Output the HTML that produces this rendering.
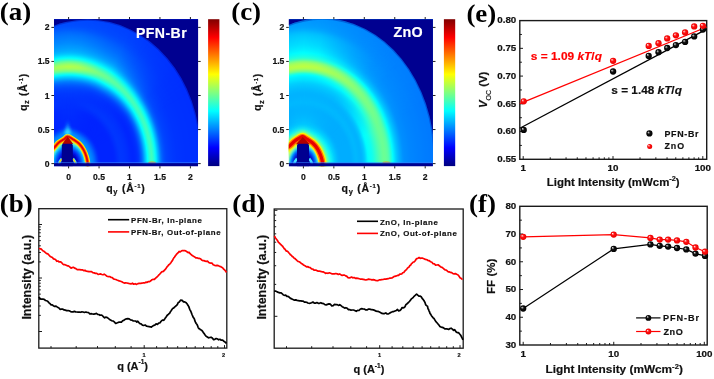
<!DOCTYPE html>
<html><head><meta charset="utf-8"><style>
html,body{margin:0;padding:0;background:#fff;}
#w{position:relative;width:714px;height:379px;overflow:hidden;background:#fff;}
.heat{position:absolute;overflow:hidden;}
svg{position:absolute;left:0;top:0;will-change:transform;}
</style></head><body><div id="w">
<div class="heat" style="left:54.00px;top:19.20px;width:144.10px;height:147.00px;background:radial-gradient(ellipse 140.40px 163.20px at 14.60px 144.40px, #0061ff 0.00%, #0060ff 1.04%, #0060ff 2.08%, #005fff 3.13%, #005fff 4.17%, #005fff 5.21%, #005eff 6.25%, #005eff 7.29%, #005eff 8.33%, #005dff 9.38%, #005dff 10.42%, #005cff 11.46%, #005bff 12.50%, #005bff 13.54%, #005aff 14.58%, #0059ff 15.62%, #0058ff 16.67%, #0056ff 17.71%, #004fff 18.75%, #0042ff 19.79%, #0034ff 20.83%, #0028ff 21.88%, #0024ff 22.92%, #0024ff 23.96%, #0024ff 25.00%, #0024ff 26.04%, #0024ff 27.08%, #0024ff 28.13%, #0024ff 29.17%, #0024ff 30.21%, #0024ff 31.25%, #0025ff 32.29%, #0028ff 33.33%, #002dff 34.38%, #0031ff 35.42%, #0035ff 36.46%, #0036ff 37.50%, #0035ff 38.54%, #0034ff 39.58%, #0032ff 40.63%, #0030ff 41.67%, #002dff 42.71%, #002aff 43.75%, #0027ff 44.79%, #0026ff 45.83%, #0027ff 46.88%, #002aff 47.92%, #002fff 48.96%, #0038ff 50.00%, #004aff 51.04%, #0061ff 52.08%, #0082ff 53.13%, #00adff 54.17%, #00d5ff 55.21%, #00feff 56.25%, #1fffe0 57.29%, #39ffc6 58.33%, #42ffbd 59.38%, #2fffd0 60.42%, #14ffeb 61.46%, #00edff 62.50%, #00c4ff 63.54%, #009fff 64.58%, #007aff 65.63%, #0061ff 66.67%, #0053ff 67.71%, #0049ff 68.75%, #0043ff 69.79%, #0040ff 70.83%, #003dff 71.88%, #003bff 72.92%, #0039ff 73.96%, #0037ff 75.00%, #0036ff 76.04%, #0034ff 77.08%, #0034ff 78.12%, #0033ff 79.17%, #0033ff 80.21%, #0032ff 81.25%, #0032ff 82.29%, #0031ff 83.33%, #0031ff 84.38%, #0031ff 85.42%, #0031ff 86.46%, #0030ff 87.50%, #0030ff 88.54%, #0030ff 89.58%, #0030ff 90.63%, #002fff 91.67%, #002fff 92.71%, #002fff 93.75%, #002fff 94.79%, #002fff 95.83%, #002fff 96.88%, #002eff 97.92%, #002eff 98.96%)"><div style="position:absolute;left:0;top:0;width:100%;height:100%;background:radial-gradient(ellipse 140.40px 163.20px at 14.60px 144.40px, #0061ff 0.00%, #0060ff 1.04%, #0060ff 2.08%, #005fff 3.13%, #005fff 4.17%, #005fff 5.21%, #005eff 6.25%, #005eff 7.29%, #005eff 8.33%, #005dff 9.38%, #005dff 10.42%, #005cff 11.46%, #005bff 12.50%, #005bff 13.54%, #005aff 14.58%, #0059ff 15.62%, #0058ff 16.67%, #0056ff 17.71%, #004fff 18.75%, #0042ff 19.79%, #0034ff 20.83%, #0028ff 21.88%, #0024ff 22.92%, #0024ff 23.96%, #0024ff 25.00%, #0024ff 26.04%, #0024ff 27.08%, #0024ff 28.13%, #0024ff 29.17%, #0024ff 30.21%, #0024ff 31.25%, #0025ff 32.29%, #0028ff 33.33%, #002dff 34.38%, #0031ff 35.42%, #0035ff 36.46%, #0036ff 37.50%, #0035ff 38.54%, #0033ff 39.58%, #0031ff 40.63%, #0030ff 41.67%, #0030ff 42.71%, #0031ff 43.75%, #0033ff 44.79%, #0035ff 45.83%, #003bff 46.88%, #0042ff 47.92%, #004fff 48.96%, #0063ff 50.00%, #007bff 51.04%, #0096ff 52.08%, #00b8ff 53.13%, #00dbff 54.17%, #00ffff 55.21%, #22ffdd 56.25%, #3fffc0 57.29%, #58ffa7 58.33%, #60ff9f 59.38%, #53ffac 60.42%, #3cffc3 61.46%, #23ffdc 62.50%, #03fffc 63.54%, #00e5ff 64.58%, #00ceff 65.63%, #00b9ff 66.67%, #00a7ff 67.71%, #0099ff 68.75%, #008fff 69.79%, #0086ff 70.83%, #007eff 71.88%, #0078ff 72.92%, #0072ff 73.96%, #006dff 75.00%, #0068ff 76.04%, #0064ff 77.08%, #0060ff 78.12%, #005cff 79.17%, #0058ff 80.21%, #0054ff 81.25%, #0050ff 82.29%, #004dff 83.33%, #004aff 84.38%, #0047ff 85.42%, #0046ff 86.46%, #0044ff 87.50%, #0043ff 88.54%, #0042ff 89.58%, #0041ff 90.63%, #0040ff 91.67%, #003fff 92.71%, #003eff 93.75%, #003dff 94.79%, #003cff 95.83%, #003bff 96.88%, #003aff 97.92%, #0039ff 98.96%);-webkit-mask-image:conic-gradient(from 0deg at 14.60px 144.40px, rgba(0,0,0,1.000) 0.0deg, rgba(0,0,0,1.000) 25.0deg, rgba(0,0,0,0.500) 38.0deg, rgba(0,0,0,0.100) 50.0deg, rgba(0,0,0,0.000) 60.0deg, rgba(0,0,0,0.000) 90.0deg, rgba(0,0,0,0.000) 270.0deg, rgba(0,0,0,0.000) 300.0deg, rgba(0,0,0,0.100) 310.0deg, rgba(0,0,0,0.500) 322.0deg, rgba(0,0,0,1.000) 335.0deg, rgba(0,0,0,1.000) 360.0deg);mask-image:conic-gradient(from 0deg at 14.60px 144.40px, rgba(0,0,0,1.000) 0.0deg, rgba(0,0,0,1.000) 25.0deg, rgba(0,0,0,0.500) 38.0deg, rgba(0,0,0,0.100) 50.0deg, rgba(0,0,0,0.000) 60.0deg, rgba(0,0,0,0.000) 90.0deg, rgba(0,0,0,0.000) 270.0deg, rgba(0,0,0,0.000) 300.0deg, rgba(0,0,0,0.100) 310.0deg, rgba(0,0,0,0.500) 322.0deg, rgba(0,0,0,1.000) 335.0deg, rgba(0,0,0,1.000) 360.0deg)"></div><div style="position:absolute;left:0;top:0;width:100%;height:100%;background:radial-gradient(ellipse 140.40px 163.20px at 14.60px 144.40px, #0061ff 0.00%, #0060ff 1.04%, #0060ff 2.08%, #005fff 3.13%, #005fff 4.17%, #005fff 5.21%, #005eff 6.25%, #005eff 7.29%, #005eff 8.33%, #005dff 9.38%, #005dff 10.42%, #005cff 11.46%, #005bff 12.50%, #005bff 13.54%, #005aff 14.58%, #0059ff 15.62%, #0058ff 16.67%, #0056ff 17.71%, #0050ff 18.75%, #0044ff 19.79%, #0037ff 20.83%, #002dff 21.88%, #0029ff 22.92%, #0029ff 23.96%, #0029ff 25.00%, #0029ff 26.04%, #002aff 27.08%, #002bff 28.13%, #002bff 29.17%, #002cff 30.21%, #002dff 31.25%, #002dff 32.29%, #002eff 33.33%, #002fff 34.38%, #002fff 35.42%, #0030ff 36.46%, #0031ff 37.50%, #0032ff 38.54%, #0033ff 39.58%, #0035ff 40.63%, #0037ff 41.67%, #0039ff 42.71%, #003dff 43.75%, #0041ff 44.79%, #0047ff 45.83%, #0050ff 46.88%, #005bff 47.92%, #006aff 48.96%, #007cff 50.00%, #0098ff 51.04%, #00b7ff 52.08%, #00d6ff 53.13%, #00faff 54.17%, #30ffcf 55.21%, #6cff93 56.25%, #90ff6f 57.29%, #aaff55 58.33%, #b2ff4d 59.38%, #a1ff5e 60.42%, #84ff7b 61.46%, #5fffa0 62.50%, #2effd1 63.54%, #04fffb 64.58%, #00e7ff 65.63%, #00ceff 66.67%, #00bbff 67.71%, #00aeff 68.75%, #00a5ff 69.79%, #009dff 70.83%, #0097ff 71.88%, #0090ff 72.92%, #008aff 73.96%, #0085ff 75.00%, #0080ff 76.04%, #007bff 77.08%, #0076ff 78.12%, #0070ff 79.17%, #0069ff 80.21%, #0061ff 81.25%, #0059ff 82.29%, #0053ff 83.33%, #004eff 84.38%, #004cff 85.42%, #004bff 86.46%, #004aff 87.50%, #0049ff 88.54%, #0048ff 89.58%, #0047ff 90.63%, #0047ff 91.67%, #0046ff 92.71%, #0045ff 93.75%, #0045ff 94.79%, #0045ff 95.83%, #0044ff 96.88%, #0044ff 97.92%, #0043ff 98.96%);-webkit-mask-image:conic-gradient(from 0deg at 14.60px 144.40px, rgba(0,0,0,1.000) 0.0deg, rgba(0,0,0,0.900) 6.0deg, rgba(0,0,0,0.600) 12.0deg, rgba(0,0,0,0.300) 18.0deg, rgba(0,0,0,0.080) 26.0deg, rgba(0,0,0,0.000) 34.0deg, rgba(0,0,0,0.000) 90.0deg, rgba(0,0,0,0.000) 270.0deg, rgba(0,0,0,0.000) 326.0deg, rgba(0,0,0,0.080) 334.0deg, rgba(0,0,0,0.300) 342.0deg, rgba(0,0,0,0.600) 348.0deg, rgba(0,0,0,0.900) 354.0deg, rgba(0,0,0,1.000) 360.0deg);mask-image:conic-gradient(from 0deg at 14.60px 144.40px, rgba(0,0,0,1.000) 0.0deg, rgba(0,0,0,0.900) 6.0deg, rgba(0,0,0,0.600) 12.0deg, rgba(0,0,0,0.300) 18.0deg, rgba(0,0,0,0.080) 26.0deg, rgba(0,0,0,0.000) 34.0deg, rgba(0,0,0,0.000) 90.0deg, rgba(0,0,0,0.000) 270.0deg, rgba(0,0,0,0.000) 326.0deg, rgba(0,0,0,0.080) 334.0deg, rgba(0,0,0,0.300) 342.0deg, rgba(0,0,0,0.600) 348.0deg, rgba(0,0,0,0.900) 354.0deg, rgba(0,0,0,1.000) 360.0deg)"></div></div><div class="heat" style="left:288.80px;top:19.20px;width:144.10px;height:147.00px;background:radial-gradient(ellipse 140.40px 163.20px at 14.60px 144.40px, #00faff 0.00%, #00faff 1.04%, #00faff 2.08%, #00faff 3.13%, #00faff 4.17%, #00faff 5.21%, #00faff 6.25%, #00faff 7.29%, #00faff 8.33%, #00faff 9.38%, #00faff 10.42%, #00faff 11.46%, #00faff 12.50%, #00faff 13.54%, #00faff 14.58%, #00faff 15.62%, #00faff 16.67%, #00faff 17.71%, #00f3ff 18.75%, #00e7ff 19.79%, #00daff 20.83%, #00cfff 21.88%, #00c5ff 22.92%, #00baff 23.96%, #00b2ff 25.00%, #00aeff 26.04%, #00adff 27.08%, #00adff 28.13%, #00adff 29.17%, #00adff 30.21%, #00adff 31.25%, #00adff 32.29%, #00adff 33.33%, #00afff 34.38%, #00b3ff 35.42%, #00b6ff 36.46%, #00b8ff 37.50%, #00b6ff 38.54%, #00b4ff 39.58%, #00b3ff 40.63%, #00b6ff 41.67%, #00c0ff 42.71%, #00cdff 43.75%, #00e4ff 44.79%, #00faff 45.83%, #05fffa 46.88%, #0afff5 47.92%, #11ffee 48.96%, #1dffe2 50.00%, #2bffd4 51.04%, #39ffc6 52.08%, #46ffb9 53.13%, #53ffac 54.17%, #5dffa2 55.21%, #66ff99 56.25%, #6bff94 57.29%, #69ff96 58.33%, #62ff9d 59.38%, #57ffa8 60.42%, #3fffc0 61.46%, #23ffdc 62.50%, #05fffa 63.54%, #00ebff 64.58%, #00d5ff 65.63%, #00c3ff 66.67%, #00b5ff 67.71%, #00a8ff 68.75%, #009dff 69.79%, #0093ff 70.83%, #008eff 71.88%, #008cff 72.92%, #008aff 73.96%, #0088ff 75.00%, #0086ff 76.04%, #0085ff 77.08%, #0084ff 78.12%, #0083ff 79.17%, #0082ff 80.21%, #0081ff 81.25%, #0080ff 82.29%, #0080ff 83.33%, #007fff 84.38%, #007eff 85.42%, #007dff 86.46%, #007cff 87.50%, #007cff 88.54%, #007bff 89.58%, #007aff 90.63%, #007aff 91.67%, #0079ff 92.71%, #0079ff 93.75%, #0078ff 94.79%, #0078ff 95.83%, #0077ff 96.88%, #0077ff 97.92%, #0076ff 98.96%)"><div style="position:absolute;left:0;top:0;width:100%;height:100%;background:radial-gradient(ellipse 140.40px 163.20px at 14.60px 144.40px, #00faff 0.00%, #00faff 1.04%, #00faff 2.08%, #00faff 3.13%, #00faff 4.17%, #00faff 5.21%, #00faff 6.25%, #00faff 7.29%, #00faff 8.33%, #00faff 9.38%, #00faff 10.42%, #00faff 11.46%, #00faff 12.50%, #00faff 13.54%, #00faff 14.58%, #00faff 15.62%, #00faff 16.67%, #00faff 17.71%, #00f3ff 18.75%, #00e7ff 19.79%, #00daff 20.83%, #00cfff 21.88%, #00c5ff 22.92%, #00baff 23.96%, #00b2ff 25.00%, #00aeff 26.04%, #00adff 27.08%, #00adff 28.13%, #00adff 29.17%, #00adff 30.21%, #00adff 31.25%, #00adff 32.29%, #00adff 33.33%, #00afff 34.38%, #00b3ff 35.42%, #00b6ff 36.46%, #00b8ff 37.50%, #00b7ff 38.54%, #00b5ff 39.58%, #00b3ff 40.63%, #00b2ff 41.67%, #00b3ff 42.71%, #00b6ff 43.75%, #00b9ff 44.79%, #00bdff 45.83%, #00c2ff 46.88%, #00c8ff 47.92%, #00d1ff 48.96%, #00dbff 50.00%, #00eaff 51.04%, #00fdff 52.08%, #15ffea 53.13%, #30ffcf 54.17%, #51ffae 55.21%, #6bff94 56.25%, #7dff82 57.29%, #88ff77 58.33%, #87ff78 59.38%, #7aff85 60.42%, #67ff98 61.46%, #46ffb9 62.50%, #20ffdf 63.54%, #00feff 64.58%, #00deff 65.63%, #00c7ff 66.67%, #00b9ff 67.71%, #00adff 68.75%, #00a4ff 69.79%, #009eff 70.83%, #009aff 71.88%, #0097ff 72.92%, #0094ff 73.96%, #0092ff 75.00%, #0090ff 76.04%, #008fff 77.08%, #008eff 78.12%, #008dff 79.17%, #008cff 80.21%, #008bff 81.25%, #008aff 82.29%, #0089ff 83.33%, #0088ff 84.38%, #0088ff 85.42%, #0087ff 86.46%, #0086ff 87.50%, #0086ff 88.54%, #0085ff 89.58%, #0085ff 90.63%, #0084ff 91.67%, #0084ff 92.71%, #0083ff 93.75%, #0083ff 94.79%, #0082ff 95.83%, #0081ff 96.88%, #0081ff 97.92%, #0080ff 98.96%);-webkit-mask-image:conic-gradient(from 0deg at 14.60px 144.40px, rgba(0,0,0,1.000) 0.0deg, rgba(0,0,0,1.000) 25.0deg, rgba(0,0,0,0.700) 40.0deg, rgba(0,0,0,0.300) 55.0deg, rgba(0,0,0,0.000) 65.0deg, rgba(0,0,0,0.000) 90.0deg, rgba(0,0,0,0.000) 270.0deg, rgba(0,0,0,0.000) 295.0deg, rgba(0,0,0,0.300) 305.0deg, rgba(0,0,0,0.700) 320.0deg, rgba(0,0,0,1.000) 335.0deg, rgba(0,0,0,1.000) 360.0deg);mask-image:conic-gradient(from 0deg at 14.60px 144.40px, rgba(0,0,0,1.000) 0.0deg, rgba(0,0,0,1.000) 25.0deg, rgba(0,0,0,0.700) 40.0deg, rgba(0,0,0,0.300) 55.0deg, rgba(0,0,0,0.000) 65.0deg, rgba(0,0,0,0.000) 90.0deg, rgba(0,0,0,0.000) 270.0deg, rgba(0,0,0,0.000) 295.0deg, rgba(0,0,0,0.300) 305.0deg, rgba(0,0,0,0.700) 320.0deg, rgba(0,0,0,1.000) 335.0deg, rgba(0,0,0,1.000) 360.0deg)"></div><div style="position:absolute;left:0;top:0;width:100%;height:100%;background:radial-gradient(ellipse 140.40px 163.20px at 14.60px 144.40px, #00faff 0.00%, #00faff 1.04%, #00faff 2.08%, #00faff 3.13%, #00faff 4.17%, #00faff 5.21%, #00faff 6.25%, #00faff 7.29%, #00faff 8.33%, #00faff 9.38%, #00faff 10.42%, #00faff 11.46%, #00faff 12.50%, #00faff 13.54%, #00faff 14.58%, #00faff 15.62%, #00faff 16.67%, #00faff 17.71%, #00f3ff 18.75%, #00e6ff 19.79%, #00d8ff 20.83%, #00d0ff 21.88%, #00caff 22.92%, #00c6ff 23.96%, #00c2ff 25.00%, #00beff 26.04%, #00bcff 27.08%, #00b9ff 28.13%, #00b7ff 29.17%, #00b5ff 30.21%, #00b4ff 31.25%, #00b3ff 32.29%, #00b3ff 33.33%, #00b4ff 34.38%, #00b5ff 35.42%, #00b7ff 36.46%, #00b8ff 37.50%, #00b7ff 38.54%, #00b5ff 39.58%, #00b4ff 40.63%, #00b3ff 41.67%, #00b3ff 42.71%, #00b5ff 43.75%, #00b8ff 44.79%, #00bcff 45.83%, #00c1ff 46.88%, #00c6ff 47.92%, #00ccff 48.96%, #00d5ff 50.00%, #00dfff 51.04%, #00e7ff 52.08%, #00f0ff 53.13%, #00fdff 54.17%, #27ffd8 55.21%, #69ff96 56.25%, #92ff6d 57.29%, #b2ff4d 58.33%, #bcff43 59.38%, #b3ff4c 60.42%, #a1ff5e 61.46%, #82ff7d 62.50%, #52ffad 63.54%, #2bffd4 64.58%, #19ffe6 65.63%, #0bfff4 66.67%, #01fffe 67.71%, #00f7ff 68.75%, #00f0ff 69.79%, #00eaff 70.83%, #00e4ff 71.88%, #00dfff 72.92%, #00dbff 73.96%, #00d7ff 75.00%, #00d3ff 76.04%, #00cfff 77.08%, #00caff 78.12%, #00c4ff 79.17%, #00bcff 80.21%, #00b2ff 81.25%, #00a9ff 82.29%, #00a2ff 83.33%, #009eff 84.38%, #009bff 85.42%, #0099ff 86.46%, #0097ff 87.50%, #0096ff 88.54%, #0094ff 89.58%, #0093ff 90.63%, #0092ff 91.67%, #0091ff 92.71%, #0090ff 93.75%, #008fff 94.79%, #008eff 95.83%, #008dff 96.88%, #008cff 97.92%, #008bff 98.96%);-webkit-mask-image:conic-gradient(from 0deg at 14.60px 144.40px, rgba(0,0,0,1.000) 0.0deg, rgba(0,0,0,0.900) 8.0deg, rgba(0,0,0,0.600) 16.0deg, rgba(0,0,0,0.300) 25.0deg, rgba(0,0,0,0.080) 35.0deg, rgba(0,0,0,0.000) 45.0deg, rgba(0,0,0,0.000) 90.0deg, rgba(0,0,0,0.000) 270.0deg, rgba(0,0,0,0.000) 315.0deg, rgba(0,0,0,0.080) 325.0deg, rgba(0,0,0,0.300) 335.0deg, rgba(0,0,0,0.600) 344.0deg, rgba(0,0,0,0.900) 352.0deg, rgba(0,0,0,1.000) 360.0deg);mask-image:conic-gradient(from 0deg at 14.60px 144.40px, rgba(0,0,0,1.000) 0.0deg, rgba(0,0,0,0.900) 8.0deg, rgba(0,0,0,0.600) 16.0deg, rgba(0,0,0,0.300) 25.0deg, rgba(0,0,0,0.080) 35.0deg, rgba(0,0,0,0.000) 45.0deg, rgba(0,0,0,0.000) 90.0deg, rgba(0,0,0,0.000) 270.0deg, rgba(0,0,0,0.000) 315.0deg, rgba(0,0,0,0.080) 325.0deg, rgba(0,0,0,0.300) 335.0deg, rgba(0,0,0,0.600) 344.0deg, rgba(0,0,0,0.900) 352.0deg, rgba(0,0,0,1.000) 360.0deg)"></div></div>
<svg width="714" height="379" viewBox="0 0 714 379">
<defs><clipPath id="clipha"><rect x="54.00" y="19.20" width="144.10" height="147.00"/></clipPath>
<radialGradient id="srha" gradientUnits="userSpaceOnUse" cx="68.60" cy="163.60" r="23.50" gradientTransform="translate(68.60 163.60) scale(0.840 1) translate(-68.60 -163.60)"><stop offset="0.0000" stop-color="#000090" stop-opacity="1.00"/><stop offset="0.4000" stop-color="#0000b0" stop-opacity="1.00"/><stop offset="0.5500" stop-color="#0018f8" stop-opacity="1.00"/><stop offset="0.7000" stop-color="#0070ff" stop-opacity="1.00"/><stop offset="0.8200" stop-color="#00e0ff" stop-opacity="1.00"/><stop offset="0.9200" stop-color="#a0ff60" stop-opacity="1.00"/><stop offset="1.0000" stop-color="#ffff00" stop-opacity="1.00"/></radialGradient>
<linearGradient id="glowha" x1="0" y1="1" x2="0" y2="0"><stop offset="0" stop-color="#40ffff" stop-opacity="1"/><stop offset="1" stop-color="#00c0ff" stop-opacity="0"/></linearGradient>
<filter id="blha" x="-50%" y="-50%" width="200%" height="200%"><feGaussianBlur stdDeviation="0.60"/></filter>
<filter id="bl2ha" x="-50%" y="-50%" width="200%" height="200%"><feGaussianBlur stdDeviation="1.50"/></filter>
<filter id="bl3ha" x="-50%" y="-50%" width="200%" height="200%"><feGaussianBlur stdDeviation="2.50"/></filter>
<filter id="bl1ha" x="-50%" y="-50%" width="200%" height="200%"><feGaussianBlur stdDeviation="1.00"/></filter>
<clipPath id="cliphc"><rect x="288.80" y="19.20" width="144.10" height="147.00"/></clipPath>
<radialGradient id="srhc" gradientUnits="userSpaceOnUse" cx="303.40" cy="163.60" r="23.50" gradientTransform="translate(303.40 163.60) scale(0.840 1) translate(-303.40 -163.60)"><stop offset="0.0000" stop-color="#000090" stop-opacity="1.00"/><stop offset="0.4500" stop-color="#0000c0" stop-opacity="1.00"/><stop offset="0.5800" stop-color="#0040ff" stop-opacity="1.00"/><stop offset="0.6800" stop-color="#00b0ff" stop-opacity="1.00"/><stop offset="0.7600" stop-color="#40ffc0" stop-opacity="1.00"/><stop offset="0.8400" stop-color="#e0ff20" stop-opacity="1.00"/><stop offset="1.0000" stop-color="#ffff00" stop-opacity="1.00"/></radialGradient>
<linearGradient id="glowhc" x1="0" y1="1" x2="0" y2="0"><stop offset="0" stop-color="#40ffff" stop-opacity="1"/><stop offset="1" stop-color="#00c0ff" stop-opacity="0"/></linearGradient>
<filter id="blhc" x="-50%" y="-50%" width="200%" height="200%"><feGaussianBlur stdDeviation="0.60"/></filter>
<filter id="bl2hc" x="-50%" y="-50%" width="200%" height="200%"><feGaussianBlur stdDeviation="1.50"/></filter>
<filter id="bl3hc" x="-50%" y="-50%" width="200%" height="200%"><feGaussianBlur stdDeviation="2.50"/></filter>
<filter id="bl1hc" x="-50%" y="-50%" width="200%" height="200%"><feGaussianBlur stdDeviation="1.00"/></filter>
<linearGradient id="jetv" x1="0" y1="1" x2="0" y2="0"><stop offset="0.0000" stop-color="#000080"/><stop offset="0.0312" stop-color="#00009f"/><stop offset="0.0625" stop-color="#0000bf"/><stop offset="0.0938" stop-color="#0000df"/><stop offset="0.1250" stop-color="#0000ff"/><stop offset="0.1562" stop-color="#0020ff"/><stop offset="0.1875" stop-color="#0040ff"/><stop offset="0.2188" stop-color="#0060ff"/><stop offset="0.2500" stop-color="#0080ff"/><stop offset="0.2812" stop-color="#009fff"/><stop offset="0.3125" stop-color="#00bfff"/><stop offset="0.3438" stop-color="#00dfff"/><stop offset="0.3750" stop-color="#00ffff"/><stop offset="0.4062" stop-color="#20ffdf"/><stop offset="0.4375" stop-color="#40ffbf"/><stop offset="0.4688" stop-color="#60ff9f"/><stop offset="0.5000" stop-color="#80ff80"/><stop offset="0.5312" stop-color="#9fff60"/><stop offset="0.5625" stop-color="#bfff40"/><stop offset="0.5938" stop-color="#dfff20"/><stop offset="0.6250" stop-color="#ffff00"/><stop offset="0.6562" stop-color="#ffdf00"/><stop offset="0.6875" stop-color="#ffbf00"/><stop offset="0.7188" stop-color="#ff9f00"/><stop offset="0.7500" stop-color="#ff8000"/><stop offset="0.7812" stop-color="#ff6000"/><stop offset="0.8125" stop-color="#ff4000"/><stop offset="0.8438" stop-color="#ff2000"/><stop offset="0.8750" stop-color="#ff0000"/><stop offset="0.9062" stop-color="#df0000"/><stop offset="0.9375" stop-color="#bf0000"/><stop offset="0.9688" stop-color="#9f0000"/><stop offset="1.0000" stop-color="#800000"/></linearGradient>
<radialGradient id="gb" cx="0.5" cy="0.5" r="0.5" fx="0.3" fy="0.3"><stop offset="0" stop-color="#f0f0f0"/><stop offset="0.18" stop-color="#909090"/><stop offset="0.45" stop-color="#101010"/><stop offset="1" stop-color="#000"/></radialGradient>
<radialGradient id="gr" cx="0.5" cy="0.5" r="0.5" fx="0.3" fy="0.3"><stop offset="0" stop-color="#ffffff"/><stop offset="0.18" stop-color="#ff9090"/><stop offset="0.45" stop-color="#ff1010"/><stop offset="1" stop-color="#e80000"/></radialGradient></defs>
<g clip-path="url(#clipha)">
<path d="M51.10,151.10 C51.70,150.43 53.43,148.52 54.70,147.10 C55.97,145.68 57.10,143.95 58.70,142.60 C60.30,141.25 62.80,140.05 64.30,139.00 C65.80,137.95 66.18,136.20 67.70,136.30 C69.22,136.40 71.50,138.37 73.40,139.60 C75.30,140.83 77.40,141.98 79.10,143.70 C80.80,145.42 82.38,147.73 83.60,149.90 C84.82,152.07 85.73,154.62 86.40,156.70 C87.07,158.78 87.35,160.75 87.60,162.40 C87.85,164.05 87.85,165.90 87.90,166.60" stroke="#00b0ff" stroke-width="12" fill="none" stroke-linecap="round" opacity="0.75" filter="url(#bl3ha)"/>
<path d="M51.10,151.10 C51.70,150.43 53.43,148.52 54.70,147.10 C55.97,145.68 57.10,143.95 58.70,142.60 C60.30,141.25 62.80,140.05 64.30,139.00 C65.80,137.95 66.18,136.20 67.70,136.30 C69.22,136.40 71.50,138.37 73.40,139.60 C75.30,140.83 77.40,141.98 79.10,143.70 C80.80,145.42 82.38,147.73 83.60,149.90 C84.82,152.07 85.73,154.62 86.40,156.70 C87.07,158.78 87.35,160.75 87.60,162.40 C87.85,164.05 87.85,165.90 87.90,166.60 L51.10,166.60 Z" fill="url(#srha)" filter="url(#bl1ha)"/>
<path d="M51.10,151.10 C51.70,150.43 53.43,148.52 54.70,147.10 C55.97,145.68 57.10,143.95 58.70,142.60 C60.30,141.25 62.80,140.05 64.30,139.00 C65.80,137.95 66.18,136.20 67.70,136.30 C69.22,136.40 71.50,138.37 73.40,139.60 C75.30,140.83 77.40,141.98 79.10,143.70 C80.80,145.42 82.38,147.73 83.60,149.90 C84.82,152.07 85.73,154.62 86.40,156.70 C87.07,158.78 87.35,160.75 87.60,162.40 C87.85,164.05 87.85,165.90 87.90,166.60" stroke="#ffee00" stroke-width="5.2" fill="none" filter="url(#blha)"/>
<path d="M51.10,151.10 C51.70,150.43 53.43,148.52 54.70,147.10 C55.97,145.68 57.10,143.95 58.70,142.60 C60.30,141.25 62.80,140.05 64.30,139.00 C65.80,137.95 66.18,136.20 67.70,136.30 C69.22,136.40 71.50,138.37 73.40,139.60 C75.30,140.83 77.40,141.98 79.10,143.70 C80.80,145.42 82.38,147.73 83.60,149.90 C84.82,152.07 85.73,154.62 86.40,156.70 C87.07,158.78 87.35,160.75 87.60,162.40 C87.85,164.05 87.85,165.90 87.90,166.60" stroke="#ff7000" stroke-width="3.4" fill="none" filter="url(#blha)"/>
<path d="M51.10,151.10 C51.70,150.43 53.43,148.52 54.70,147.10 C55.97,145.68 57.10,143.95 58.70,142.60 C60.30,141.25 62.80,140.05 64.30,139.00 C65.80,137.95 66.18,136.20 67.70,136.30 C69.22,136.40 71.50,138.37 73.40,139.60 C75.30,140.83 77.40,141.98 79.10,143.70 C80.80,145.42 82.38,147.73 83.60,149.90 C84.82,152.07 85.73,154.62 86.40,156.70 C87.07,158.78 87.35,160.75 87.60,162.40 C87.85,164.05 87.85,165.90 87.90,166.60" stroke="#e80000" stroke-width="1.8" fill="none"/>
<path d="M64.50,134.10 L67.70,118.60 L70.90,134.10 Z" fill="url(#glowha)" filter="url(#bl2ha)"/>
<path d="M62.20,144.00 L67.70,136.40 L73.20,144.00 Z" fill="#b00000" filter="url(#blha)"/>
<path d="M61.80,158.70 Q59.60,161.20 58.90,164.20" stroke="#40e0ff" stroke-width="2.6" fill="none" filter="url(#blha)"/>
<path d="M61.80,159.00 Q59.80,161.20 59.10,163.90" stroke="#ffd000" stroke-width="1.2" fill="none"/>
<path d="M73.00,158.70 Q75.20,161.20 75.90,164.20" stroke="#40e0ff" stroke-width="2.6" fill="none" filter="url(#blha)"/>
<path d="M73.00,159.00 Q75.00,161.20 75.70,163.90" stroke="#ffd000" stroke-width="1.2" fill="none"/>
<path d="M61.80,166.60 L61.80,145.50 Q61.80,143.70 63.60,143.70 L71.00,143.70 Q72.80,143.70 72.80,145.50 L72.80,166.60 Z" fill="#000090"/>
<ellipse cx="152.10" cy="162.60" rx="4" ry="1.2" fill="#ff9000" opacity="0.85" filter="url(#blha)"/>
<rect x="54.00" y="162.20" width="144.10" height="1.00" fill="#3080ff" opacity="0.7"/>
<rect x="54.00" y="163.20" width="144.10" height="5.00" fill="#000090"/>
<path fill-rule="evenodd" fill="#000090" d="M52.00,17.20 h148.10 v151.00 h-148.10 Z M-24.94,151.77 a112.68,132.19 0 1,0 225.36,0 a112.68,132.19 0 1,0 -225.36,0 Z"/>
<ellipse cx="87.74" cy="151.77" rx="112.18" ry="131.69" fill="none" stroke="#000090" stroke-width="1.5" opacity="0.3" filter="url(#blha)"/>
</g><g clip-path="url(#cliphc)">
<path d="M284.40,150.60 C285.00,150.00 287.02,147.87 288.00,147.00 C288.98,146.13 289.17,146.38 290.30,145.40 C291.43,144.42 293.30,142.30 294.80,141.10 C296.30,139.90 297.98,138.93 299.30,138.20 C300.62,137.47 301.37,136.50 302.70,136.70 C304.03,136.90 305.60,138.30 307.30,139.40 C309.00,140.50 311.20,141.73 312.90,143.30 C314.60,144.87 316.27,146.93 317.50,148.80 C318.73,150.67 319.52,152.53 320.30,154.50 C321.08,156.47 321.80,158.58 322.20,160.60 C322.60,162.62 322.62,165.60 322.70,166.60" stroke="#30ffe0" stroke-width="17" fill="none" stroke-linecap="round" opacity="0.8" filter="url(#bl3hc)"/>
<path d="M284.40,150.60 C285.00,150.00 287.02,147.87 288.00,147.00 C288.98,146.13 289.17,146.38 290.30,145.40 C291.43,144.42 293.30,142.30 294.80,141.10 C296.30,139.90 297.98,138.93 299.30,138.20 C300.62,137.47 301.37,136.50 302.70,136.70 C304.03,136.90 305.60,138.30 307.30,139.40 C309.00,140.50 311.20,141.73 312.90,143.30 C314.60,144.87 316.27,146.93 317.50,148.80 C318.73,150.67 319.52,152.53 320.30,154.50 C321.08,156.47 321.80,158.58 322.20,160.60 C322.60,162.62 322.62,165.60 322.70,166.60" stroke="#c0ff40" stroke-width="11" fill="none" stroke-linecap="round" opacity="0.8" filter="url(#bl2hc)"/>
<path d="M284.40,150.60 C285.00,150.00 287.02,147.87 288.00,147.00 C288.98,146.13 289.17,146.38 290.30,145.40 C291.43,144.42 293.30,142.30 294.80,141.10 C296.30,139.90 297.98,138.93 299.30,138.20 C300.62,137.47 301.37,136.50 302.70,136.70 C304.03,136.90 305.60,138.30 307.30,139.40 C309.00,140.50 311.20,141.73 312.90,143.30 C314.60,144.87 316.27,146.93 317.50,148.80 C318.73,150.67 319.52,152.53 320.30,154.50 C321.08,156.47 321.80,158.58 322.20,160.60 C322.60,162.62 322.62,165.60 322.70,166.60 L284.40,166.60 Z" fill="url(#srhc)" filter="url(#bl1hc)"/>
<path d="M284.40,150.60 C285.00,150.00 287.02,147.87 288.00,147.00 C288.98,146.13 289.17,146.38 290.30,145.40 C291.43,144.42 293.30,142.30 294.80,141.10 C296.30,139.90 297.98,138.93 299.30,138.20 C300.62,137.47 301.37,136.50 302.70,136.70 C304.03,136.90 305.60,138.30 307.30,139.40 C309.00,140.50 311.20,141.73 312.90,143.30 C314.60,144.87 316.27,146.93 317.50,148.80 C318.73,150.67 319.52,152.53 320.30,154.50 C321.08,156.47 321.80,158.58 322.20,160.60 C322.60,162.62 322.62,165.60 322.70,166.60" stroke="#ffee00" stroke-width="8.0" fill="none" filter="url(#blhc)"/>
<path d="M284.40,150.60 C285.00,150.00 287.02,147.87 288.00,147.00 C288.98,146.13 289.17,146.38 290.30,145.40 C291.43,144.42 293.30,142.30 294.80,141.10 C296.30,139.90 297.98,138.93 299.30,138.20 C300.62,137.47 301.37,136.50 302.70,136.70 C304.03,136.90 305.60,138.30 307.30,139.40 C309.00,140.50 311.20,141.73 312.90,143.30 C314.60,144.87 316.27,146.93 317.50,148.80 C318.73,150.67 319.52,152.53 320.30,154.50 C321.08,156.47 321.80,158.58 322.20,160.60 C322.60,162.62 322.62,165.60 322.70,166.60" stroke="#ff7000" stroke-width="5.6" fill="none" filter="url(#blhc)"/>
<path d="M284.40,150.60 C285.00,150.00 287.02,147.87 288.00,147.00 C288.98,146.13 289.17,146.38 290.30,145.40 C291.43,144.42 293.30,142.30 294.80,141.10 C296.30,139.90 297.98,138.93 299.30,138.20 C300.62,137.47 301.37,136.50 302.70,136.70 C304.03,136.90 305.60,138.30 307.30,139.40 C309.00,140.50 311.20,141.73 312.90,143.30 C314.60,144.87 316.27,146.93 317.50,148.80 C318.73,150.67 319.52,152.53 320.30,154.50 C321.08,156.47 321.80,158.58 322.20,160.60 C322.60,162.62 322.62,165.60 322.70,166.60" stroke="#e80000" stroke-width="3.2" fill="none"/>
<path d="M295.80,144.20 L302.70,137.00 L310.00,144.20 Z" fill="#b00000" filter="url(#blhc)"/>
<path d="M297.00,158.70 Q294.80,161.20 294.10,164.20" stroke="#40e0ff" stroke-width="2.6" fill="none" filter="url(#blhc)"/>
<path d="M309.20,158.70 Q311.40,161.20 312.10,164.20" stroke="#40e0ff" stroke-width="2.6" fill="none" filter="url(#blhc)"/>
<path d="M297.00,166.60 L297.00,145.50 Q297.00,143.70 298.80,143.70 L307.20,143.70 Q309.00,143.70 309.00,145.50 L309.00,166.60 Z" fill="#000090"/>
<ellipse cx="386.40" cy="162.60" rx="4" ry="1.2" fill="#ff9000" opacity="0.85" filter="url(#blhc)"/>
<rect x="288.80" y="162.20" width="144.10" height="1.00" fill="#3080ff" opacity="0.7"/>
<rect x="288.80" y="163.20" width="144.10" height="5.00" fill="#000090"/>
<path fill-rule="evenodd" fill="#000090" d="M286.80,17.20 h148.10 v151.00 h-148.10 Z M210.50,156.71 a111.97,138.23 0 1,0 223.94,0 a111.97,138.23 0 1,0 -223.94,0 Z"/>
<ellipse cx="322.47" cy="156.71" rx="111.47" ry="137.73" fill="none" stroke="#000090" stroke-width="1.5" opacity="0.3" filter="url(#blhc)"/>
</g>
<text transform="translate(-0.25,20.20) scale(1.065,1)" font-size="25.30" text-anchor="start" fill="#000" font-family='"Liberation Serif",serif' font-weight="bold">(a)</text>
<text transform="translate(-0.25,212.10) scale(1.065,1)" font-size="25.30" text-anchor="start" fill="#000" font-family='"Liberation Serif",serif' font-weight="bold">(b)</text>
<text transform="translate(231.20,19.90) scale(1.065,1)" font-size="25.30" text-anchor="start" fill="#000" font-family='"Liberation Serif",serif' font-weight="bold">(c)</text>
<text transform="translate(232.30,212.40) scale(1.065,1)" font-size="25.30" text-anchor="start" fill="#000" font-family='"Liberation Serif",serif' font-weight="bold">(d)</text>
<text transform="translate(466.40,22.30) scale(1.065,1)" font-size="25.30" text-anchor="start" fill="#000" font-family='"Liberation Serif",serif' font-weight="bold">(e)</text>
<text transform="translate(469.10,212.00) scale(1.065,1)" font-size="25.30" text-anchor="start" fill="#000" font-family='"Liberation Serif",serif' font-weight="bold">(f)</text>
<line x1="68.60" y1="19.20" x2="68.60" y2="17.00" stroke="#222" stroke-width="1.00"/>
<line x1="68.60" y1="166.20" x2="68.60" y2="168.40" stroke="#222" stroke-width="1.00"/>
<text transform="translate(68.60,180.00)" font-size="8.60" text-anchor="middle" fill="#111" font-family='"Liberation Sans",sans-serif' font-weight="bold" stroke="#111" stroke-width="0.18">0</text>
<line x1="54.00" y1="163.60" x2="51.40" y2="163.60" stroke="#222" stroke-width="1.00"/>
<line x1="198.10" y1="163.60" x2="200.70" y2="163.60" stroke="#222" stroke-width="1.00"/>
<text transform="translate(49.60,166.60)" font-size="8.60" text-anchor="end" fill="#111" font-family='"Liberation Sans",sans-serif' font-weight="bold" stroke="#111" stroke-width="0.18">0</text>
<line x1="99.05" y1="19.20" x2="99.05" y2="17.00" stroke="#222" stroke-width="1.00"/>
<line x1="99.05" y1="166.20" x2="99.05" y2="168.40" stroke="#222" stroke-width="1.00"/>
<text transform="translate(99.05,180.00)" font-size="8.60" text-anchor="middle" fill="#111" font-family='"Liberation Sans",sans-serif' font-weight="bold" stroke="#111" stroke-width="0.18">0.5</text>
<line x1="54.00" y1="129.55" x2="51.40" y2="129.55" stroke="#222" stroke-width="1.00"/>
<line x1="198.10" y1="129.55" x2="200.70" y2="129.55" stroke="#222" stroke-width="1.00"/>
<text transform="translate(49.60,132.55)" font-size="8.60" text-anchor="end" fill="#111" font-family='"Liberation Sans",sans-serif' font-weight="bold" stroke="#111" stroke-width="0.18">0.5</text>
<line x1="129.50" y1="19.20" x2="129.50" y2="17.00" stroke="#222" stroke-width="1.00"/>
<line x1="129.50" y1="166.20" x2="129.50" y2="168.40" stroke="#222" stroke-width="1.00"/>
<text transform="translate(129.50,180.00)" font-size="8.60" text-anchor="middle" fill="#111" font-family='"Liberation Sans",sans-serif' font-weight="bold" stroke="#111" stroke-width="0.18">1</text>
<line x1="54.00" y1="95.50" x2="51.40" y2="95.50" stroke="#222" stroke-width="1.00"/>
<line x1="198.10" y1="95.50" x2="200.70" y2="95.50" stroke="#222" stroke-width="1.00"/>
<text transform="translate(49.60,98.50)" font-size="8.60" text-anchor="end" fill="#111" font-family='"Liberation Sans",sans-serif' font-weight="bold" stroke="#111" stroke-width="0.18">1</text>
<line x1="159.95" y1="19.20" x2="159.95" y2="17.00" stroke="#222" stroke-width="1.00"/>
<line x1="159.95" y1="166.20" x2="159.95" y2="168.40" stroke="#222" stroke-width="1.00"/>
<text transform="translate(159.95,180.00)" font-size="8.60" text-anchor="middle" fill="#111" font-family='"Liberation Sans",sans-serif' font-weight="bold" stroke="#111" stroke-width="0.18">1.5</text>
<line x1="54.00" y1="61.45" x2="51.40" y2="61.45" stroke="#222" stroke-width="1.00"/>
<line x1="198.10" y1="61.45" x2="200.70" y2="61.45" stroke="#222" stroke-width="1.00"/>
<text transform="translate(49.60,64.45)" font-size="8.60" text-anchor="end" fill="#111" font-family='"Liberation Sans",sans-serif' font-weight="bold" stroke="#111" stroke-width="0.18">1.5</text>
<line x1="190.40" y1="19.20" x2="190.40" y2="17.00" stroke="#222" stroke-width="1.00"/>
<line x1="190.40" y1="166.20" x2="190.40" y2="168.40" stroke="#222" stroke-width="1.00"/>
<text transform="translate(190.40,180.00)" font-size="8.60" text-anchor="middle" fill="#111" font-family='"Liberation Sans",sans-serif' font-weight="bold" stroke="#111" stroke-width="0.18">2</text>
<line x1="54.00" y1="27.40" x2="51.40" y2="27.40" stroke="#222" stroke-width="1.00"/>
<line x1="198.10" y1="27.40" x2="200.70" y2="27.40" stroke="#222" stroke-width="1.00"/>
<text transform="translate(49.60,30.40)" font-size="8.60" text-anchor="end" fill="#111" font-family='"Liberation Sans",sans-serif' font-weight="bold" stroke="#111" stroke-width="0.18">2</text>
<text transform="translate(125.90,191.50)" font-size="10.50" text-anchor="middle" fill="#111" font-family='"Liberation Sans",sans-serif' font-weight="bold" stroke="#111" stroke-width="0.18" letter-spacing="0.75">q<tspan font-size="7.5" dy="2.8">y</tspan><tspan dy="-2.8"> (&#197;</tspan><tspan font-size="6" dy="-3.2">-1</tspan><tspan dy="3.2">)</tspan></text>
<text transform="translate(26.60,92.00) rotate(-90)" font-size="10.50" text-anchor="middle" fill="#111" font-family='"Liberation Sans",sans-serif' font-weight="bold" stroke="#111" stroke-width="0.18" letter-spacing="0.60">q<tspan font-size="7.5" dy="2.8">z</tspan><tspan dy="-2.8"> (&#197;</tspan><tspan font-size="6" dy="-3.2">-1</tspan><tspan dy="3.2">)</tspan></text>
<line x1="303.40" y1="19.20" x2="303.40" y2="17.00" stroke="#222" stroke-width="1.00"/>
<line x1="303.40" y1="166.20" x2="303.40" y2="168.40" stroke="#222" stroke-width="1.00"/>
<text transform="translate(303.40,180.00)" font-size="8.60" text-anchor="middle" fill="#111" font-family='"Liberation Sans",sans-serif' font-weight="bold" stroke="#111" stroke-width="0.18">0</text>
<line x1="288.80" y1="163.60" x2="286.20" y2="163.60" stroke="#222" stroke-width="1.00"/>
<line x1="432.90" y1="163.60" x2="435.50" y2="163.60" stroke="#222" stroke-width="1.00"/>
<text transform="translate(284.40,166.60)" font-size="8.60" text-anchor="end" fill="#111" font-family='"Liberation Sans",sans-serif' font-weight="bold" stroke="#111" stroke-width="0.18">0</text>
<line x1="333.85" y1="19.20" x2="333.85" y2="17.00" stroke="#222" stroke-width="1.00"/>
<line x1="333.85" y1="166.20" x2="333.85" y2="168.40" stroke="#222" stroke-width="1.00"/>
<text transform="translate(333.85,180.00)" font-size="8.60" text-anchor="middle" fill="#111" font-family='"Liberation Sans",sans-serif' font-weight="bold" stroke="#111" stroke-width="0.18">0.5</text>
<line x1="288.80" y1="129.55" x2="286.20" y2="129.55" stroke="#222" stroke-width="1.00"/>
<line x1="432.90" y1="129.55" x2="435.50" y2="129.55" stroke="#222" stroke-width="1.00"/>
<text transform="translate(284.40,132.55)" font-size="8.60" text-anchor="end" fill="#111" font-family='"Liberation Sans",sans-serif' font-weight="bold" stroke="#111" stroke-width="0.18">0.5</text>
<line x1="364.30" y1="19.20" x2="364.30" y2="17.00" stroke="#222" stroke-width="1.00"/>
<line x1="364.30" y1="166.20" x2="364.30" y2="168.40" stroke="#222" stroke-width="1.00"/>
<text transform="translate(364.30,180.00)" font-size="8.60" text-anchor="middle" fill="#111" font-family='"Liberation Sans",sans-serif' font-weight="bold" stroke="#111" stroke-width="0.18">1</text>
<line x1="288.80" y1="95.50" x2="286.20" y2="95.50" stroke="#222" stroke-width="1.00"/>
<line x1="432.90" y1="95.50" x2="435.50" y2="95.50" stroke="#222" stroke-width="1.00"/>
<text transform="translate(284.40,98.50)" font-size="8.60" text-anchor="end" fill="#111" font-family='"Liberation Sans",sans-serif' font-weight="bold" stroke="#111" stroke-width="0.18">1</text>
<line x1="394.75" y1="19.20" x2="394.75" y2="17.00" stroke="#222" stroke-width="1.00"/>
<line x1="394.75" y1="166.20" x2="394.75" y2="168.40" stroke="#222" stroke-width="1.00"/>
<text transform="translate(394.75,180.00)" font-size="8.60" text-anchor="middle" fill="#111" font-family='"Liberation Sans",sans-serif' font-weight="bold" stroke="#111" stroke-width="0.18">1.5</text>
<line x1="288.80" y1="61.45" x2="286.20" y2="61.45" stroke="#222" stroke-width="1.00"/>
<line x1="432.90" y1="61.45" x2="435.50" y2="61.45" stroke="#222" stroke-width="1.00"/>
<text transform="translate(284.40,64.45)" font-size="8.60" text-anchor="end" fill="#111" font-family='"Liberation Sans",sans-serif' font-weight="bold" stroke="#111" stroke-width="0.18">1.5</text>
<line x1="425.20" y1="19.20" x2="425.20" y2="17.00" stroke="#222" stroke-width="1.00"/>
<line x1="425.20" y1="166.20" x2="425.20" y2="168.40" stroke="#222" stroke-width="1.00"/>
<text transform="translate(425.20,180.00)" font-size="8.60" text-anchor="middle" fill="#111" font-family='"Liberation Sans",sans-serif' font-weight="bold" stroke="#111" stroke-width="0.18">2</text>
<line x1="288.80" y1="27.40" x2="286.20" y2="27.40" stroke="#222" stroke-width="1.00"/>
<line x1="432.90" y1="27.40" x2="435.50" y2="27.40" stroke="#222" stroke-width="1.00"/>
<text transform="translate(284.40,30.40)" font-size="8.60" text-anchor="end" fill="#111" font-family='"Liberation Sans",sans-serif' font-weight="bold" stroke="#111" stroke-width="0.18">2</text>
<text transform="translate(361.20,191.50)" font-size="10.50" text-anchor="middle" fill="#111" font-family='"Liberation Sans",sans-serif' font-weight="bold" stroke="#111" stroke-width="0.18" letter-spacing="0.75">q<tspan font-size="7.5" dy="2.8">y</tspan><tspan dy="-2.8"> (&#197;</tspan><tspan font-size="6" dy="-3.2">-1</tspan><tspan dy="3.2">)</tspan></text>
<text transform="translate(261.40,92.00) rotate(-90)" font-size="10.50" text-anchor="middle" fill="#111" font-family='"Liberation Sans",sans-serif' font-weight="bold" stroke="#111" stroke-width="0.18" letter-spacing="0.60">q<tspan font-size="7.5" dy="2.8">z</tspan><tspan dy="-2.8"> (&#197;</tspan><tspan font-size="6" dy="-3.2">-1</tspan><tspan dy="3.2">)</tspan></text>
<text transform="translate(135.90,37.80)" font-size="14.10" text-anchor="start" fill="#fff" font-family='"Liberation Sans",sans-serif' font-weight="bold" stroke="#fff" stroke-width="0.18" letter-spacing="0.44">PFN-Br</text>
<text transform="translate(393.50,37.10)" font-size="14.30" text-anchor="start" fill="#fff" font-family='"Liberation Sans",sans-serif' font-weight="bold" stroke="#fff" stroke-width="0.18" letter-spacing="0.28">ZnO</text>
<rect x="208.10" y="19.2" width="11.3" height="146.9" fill="url(#jetv)"/>
<rect x="443.90" y="19.2" width="11.3" height="146.9" fill="url(#jetv)"/>
<rect x="38.80" y="208.70" width="188.00" height="139.40" fill="none" stroke="#1a1a1a" stroke-width="1.30"/>
<line x1="38.80" y1="224.50" x2="42.00" y2="224.50" stroke="#1a1a1a" stroke-width="1.00"/>
<line x1="38.80" y1="226.95" x2="40.80" y2="226.95" stroke="#1a1a1a" stroke-width="1.00"/>
<line x1="38.80" y1="229.68" x2="40.80" y2="229.68" stroke="#1a1a1a" stroke-width="1.00"/>
<line x1="38.80" y1="232.79" x2="40.80" y2="232.79" stroke="#1a1a1a" stroke-width="1.00"/>
<line x1="38.80" y1="236.37" x2="40.80" y2="236.37" stroke="#1a1a1a" stroke-width="1.00"/>
<line x1="38.80" y1="240.61" x2="40.80" y2="240.61" stroke="#1a1a1a" stroke-width="1.00"/>
<line x1="38.80" y1="245.79" x2="40.80" y2="245.79" stroke="#1a1a1a" stroke-width="1.00"/>
<line x1="38.80" y1="252.47" x2="40.80" y2="252.47" stroke="#1a1a1a" stroke-width="1.00"/>
<line x1="38.80" y1="261.89" x2="40.80" y2="261.89" stroke="#1a1a1a" stroke-width="1.00"/>
<line x1="38.80" y1="278.00" x2="42.00" y2="278.00" stroke="#1a1a1a" stroke-width="1.00"/>
<line x1="38.80" y1="280.45" x2="40.80" y2="280.45" stroke="#1a1a1a" stroke-width="1.00"/>
<line x1="38.80" y1="283.18" x2="40.80" y2="283.18" stroke="#1a1a1a" stroke-width="1.00"/>
<line x1="38.80" y1="286.29" x2="40.80" y2="286.29" stroke="#1a1a1a" stroke-width="1.00"/>
<line x1="38.80" y1="289.87" x2="40.80" y2="289.87" stroke="#1a1a1a" stroke-width="1.00"/>
<line x1="38.80" y1="294.11" x2="40.80" y2="294.11" stroke="#1a1a1a" stroke-width="1.00"/>
<line x1="38.80" y1="299.29" x2="40.80" y2="299.29" stroke="#1a1a1a" stroke-width="1.00"/>
<line x1="38.80" y1="305.97" x2="40.80" y2="305.97" stroke="#1a1a1a" stroke-width="1.00"/>
<line x1="38.80" y1="315.39" x2="40.80" y2="315.39" stroke="#1a1a1a" stroke-width="1.00"/>
<line x1="38.80" y1="331.50" x2="42.00" y2="331.50" stroke="#1a1a1a" stroke-width="1.00"/>
<line x1="51.00" y1="348.10" x2="51.00" y2="346.10" stroke="#1a1a1a" stroke-width="1.00"/>
<line x1="76.20" y1="348.10" x2="76.20" y2="346.10" stroke="#1a1a1a" stroke-width="1.00"/>
<line x1="97.50" y1="348.10" x2="97.50" y2="346.10" stroke="#1a1a1a" stroke-width="1.00"/>
<line x1="115.30" y1="348.10" x2="115.30" y2="346.10" stroke="#1a1a1a" stroke-width="1.00"/>
<line x1="131.10" y1="348.10" x2="131.10" y2="346.10" stroke="#1a1a1a" stroke-width="1.00"/>
<line x1="144.20" y1="348.10" x2="144.20" y2="345.10" stroke="#1a1a1a" stroke-width="1.00"/>
<line x1="156.60" y1="348.10" x2="156.60" y2="346.10" stroke="#1a1a1a" stroke-width="1.00"/>
<line x1="167.30" y1="348.10" x2="167.30" y2="346.10" stroke="#1a1a1a" stroke-width="1.00"/>
<line x1="177.70" y1="348.10" x2="177.70" y2="346.10" stroke="#1a1a1a" stroke-width="1.00"/>
<line x1="186.60" y1="348.10" x2="186.60" y2="346.10" stroke="#1a1a1a" stroke-width="1.00"/>
<line x1="195.20" y1="348.10" x2="195.20" y2="346.10" stroke="#1a1a1a" stroke-width="1.00"/>
<line x1="203.60" y1="348.10" x2="203.60" y2="346.10" stroke="#1a1a1a" stroke-width="1.00"/>
<line x1="211.20" y1="348.10" x2="211.20" y2="346.10" stroke="#1a1a1a" stroke-width="1.00"/>
<line x1="217.80" y1="348.10" x2="217.80" y2="346.10" stroke="#1a1a1a" stroke-width="1.00"/>
<line x1="224.50" y1="348.10" x2="224.50" y2="345.10" stroke="#1a1a1a" stroke-width="1.00"/>
<text transform="translate(144.00,356.90)" font-size="5.60" text-anchor="middle" fill="#111" font-family='"Liberation Sans",sans-serif' font-weight="bold" stroke="#111" stroke-width="0.18">1</text>
<text transform="translate(223.60,356.90)" font-size="5.60" text-anchor="middle" fill="#111" font-family='"Liberation Sans",sans-serif' font-weight="bold" stroke="#111" stroke-width="0.18">2</text>
<text transform="translate(132.60,369.50)" font-size="11.00" text-anchor="middle" fill="#111" font-family='"Liberation Sans",sans-serif' font-weight="bold" stroke="#111" stroke-width="0.18">q (A<tspan font-size="6.5" dy="-5.6">-1</tspan><tspan dy="5.6">)</tspan></text>
<text transform="translate(31.20,277.25) rotate(-90)" font-size="12.50" text-anchor="middle" fill="#111" font-family='"Liberation Sans",sans-serif' font-weight="bold" stroke="#111" stroke-width="0.18">Intensity (a.u.)</text>
<line x1="108.00" y1="219.70" x2="129.20" y2="219.70" stroke="#000" stroke-width="1.60"/>
<line x1="108.00" y1="231.90" x2="129.20" y2="231.90" stroke="#f00" stroke-width="1.60"/>
<text transform="translate(131.00,223.20)" font-size="7.85" text-anchor="start" fill="#111" font-family='"Liberation Sans",sans-serif' font-weight="bold" stroke="#111" stroke-width="0.18" letter-spacing="0.65">PFN-Br, In-plane</text>
<text transform="translate(131.00,235.30)" font-size="7.85" text-anchor="start" fill="#111" font-family='"Liberation Sans",sans-serif' font-weight="bold" stroke="#111" stroke-width="0.18" letter-spacing="0.63">PFN-Br, Out-of-plane</text>
<path d="M39.3,248.0 L39.9,248.8 L40.7,248.8 L41.7,249.5 L42.8,250.7 L44.0,251.3 L45.2,252.4 L46.1,253.2 L47.0,253.6 L48.1,254.1 L49.1,255.2 L50.2,256.4 L51.3,256.9 L52.4,257.5 L53.5,258.9 L54.5,259.1 L55.7,259.7 L56.8,261.3 L58.0,261.0 L59.2,262.0 L60.4,261.8 L61.5,262.5 L62.6,263.8 L63.7,264.7 L65.0,264.7 L66.2,265.2 L67.3,265.8 L68.4,265.9 L69.7,266.9 L71.1,268.2 L72.2,267.6 L73.4,267.3 L74.6,268.1 L75.9,268.6 L77.2,269.6 L78.5,269.6 L79.8,269.7 L81.0,269.9 L82.2,269.8 L83.6,270.6 L85.0,270.3 L86.3,271.2 L87.6,271.4 L88.9,271.7 L90.2,271.7 L91.5,271.6 L92.8,272.7 L94.1,272.9 L95.4,273.4 L96.8,273.4 L98.1,274.4 L99.4,274.2 L100.7,273.9 L101.9,274.5 L103.0,274.8 L104.2,274.2 L105.3,274.9 L106.5,275.9 L107.7,276.5 L108.8,276.6 L110.0,276.6 L111.2,277.5 L112.3,277.6 L113.5,278.9 L114.6,279.2 L115.8,279.5 L116.9,280.0 L118.1,280.4 L119.2,280.9 L120.5,281.3 L121.8,281.8 L123.1,282.5 L124.3,283.1 L125.7,282.9 L127.0,283.0 L128.4,283.3 L129.7,283.7 L131.0,283.9 L132.4,283.2 L133.8,284.2 L135.2,283.7 L136.6,284.4 L137.9,283.6 L139.2,283.3 L140.6,283.3 L142.0,283.2 L143.3,282.8 L144.6,283.0 L145.9,282.1 L147.2,282.3 L148.5,281.5 L149.7,281.6 L150.8,280.8 L152.0,279.7 L153.1,279.4 L154.2,279.5 L155.4,278.4 L156.5,277.4 L157.7,276.3 L158.6,275.2 L159.6,274.3 L160.5,273.2 L161.5,272.1 L162.5,271.6 L163.4,271.4 L164.3,270.4 L165.3,269.4 L166.1,268.3 L167.0,266.9 L167.8,266.1 L168.6,265.0 L169.4,264.3 L170.2,263.6 L170.9,262.7 L171.7,261.4 L172.4,260.6 L173.1,259.1 L173.7,258.1 L174.4,257.2 L175.4,255.7 L176.4,254.4 L177.4,253.4 L178.3,252.6 L179.1,251.4 L179.9,252.0 L181.3,251.1 L182.4,250.6 L183.6,250.7 L184.7,250.6 L185.8,251.1 L187.3,252.0 L188.1,252.6 L189.1,252.3 L190.1,253.7 L191.2,254.6 L192.3,255.6 L193.5,256.3 L194.7,256.9 L195.8,257.8 L196.9,257.8 L198.0,258.3 L199.2,258.4 L200.4,258.7 L201.6,260.0 L202.7,260.6 L203.9,260.6 L205.1,261.2 L206.3,261.4 L207.5,261.2 L208.7,262.4 L209.8,262.9 L211.0,263.2 L212.1,263.2 L213.2,264.7 L214.6,265.3 L215.9,265.6 L217.1,265.4 L218.3,265.6 L219.5,266.4 L220.6,266.5 L221.6,267.3 L222.6,267.8 L223.5,269.0 L224.5,269.7 L225.3,270.7 L226.0,271.6 L226.5,272.5" fill="none" stroke="#f00" stroke-width="1.7" stroke-linejoin="round"/>
<path d="M38.8,296.9 L39.5,298.0 L40.5,298.9 L41.7,299.1 L42.9,299.2 L44.2,299.4 L45.5,300.5 L46.6,300.8 L47.7,301.2 L48.8,302.6 L50.0,303.7 L51.1,304.8 L52.3,304.9 L53.4,305.7 L54.7,306.4 L56.0,306.1 L57.4,307.2 L58.7,307.8 L60.0,309.3 L61.3,309.1 L62.6,309.1 L64.0,309.9 L65.3,310.1 L66.7,310.6 L68.0,310.5 L69.2,310.8 L70.6,311.6 L71.9,311.9 L73.1,311.9 L74.4,311.4 L75.6,311.9 L76.8,312.0 L78.1,312.2 L79.3,312.0 L80.5,312.3 L81.9,311.9 L83.1,312.0 L84.4,312.5 L85.8,312.0 L87.1,312.3 L88.5,312.5 L89.8,314.0 L91.1,313.7 L92.4,314.0 L93.8,314.2 L95.1,313.9 L96.4,313.3 L97.7,314.4 L98.8,314.5 L100.0,315.3 L101.2,315.0 L102.3,315.5 L103.5,316.8 L104.6,317.8 L105.6,317.2 L107.0,317.3 L108.3,318.3 L109.6,319.5 L110.9,320.2 L112.0,320.8 L113.3,321.0 L114.5,322.2 L115.6,323.3 L116.7,323.1 L118.2,322.4 L119.7,322.0 L121.4,322.2 L122.6,320.8 L123.8,320.4 L125.1,319.3 L126.5,318.9 L127.8,318.7 L129.2,318.8 L130.5,319.8 L132.0,320.1 L133.3,321.0 L134.7,321.0 L135.8,321.1 L136.8,322.0 L137.8,321.2 L138.9,322.6 L140.0,323.7 L141.1,323.9 L142.4,325.1 L143.7,325.5 L145.2,325.0 L146.5,326.1 L147.9,326.3 L149.0,326.7 L150.4,326.8 L151.4,327.1 L152.5,326.2 L153.7,325.4 L154.8,325.1 L156.1,323.8 L157.4,324.4 L158.7,323.1 L160.1,322.7 L160.9,321.5 L161.8,320.6 L162.7,320.0 L163.6,320.3 L164.5,319.4 L165.4,317.9 L166.3,316.8 L167.2,315.3 L168.0,314.8 L168.9,313.7 L169.7,313.2 L170.6,311.4 L171.3,310.5 L172.1,309.3 L172.9,308.3 L173.6,308.1 L174.3,307.3 L175.4,306.3 L176.4,305.5 L177.3,304.7 L178.2,302.6 L179.0,302.3 L180.6,300.2 L182.2,300.4 L183.5,301.8 L184.8,301.9 L186.2,302.7 L186.8,303.6 L187.5,304.5 L188.1,305.6 L188.7,306.4 L189.4,308.4 L190.1,310.1 L190.5,310.7 L191.0,311.8 L191.5,313.1 L192.0,314.5 L192.5,315.6 L192.9,316.8 L193.4,317.6 L193.9,318.1 L194.4,319.1 L194.9,320.9 L195.6,322.5 L196.2,323.5 L196.8,324.2 L197.5,325.5 L198.1,327.3 L198.8,328.6 L199.6,328.7 L200.4,329.7 L201.3,330.0 L202.2,330.8 L203.2,332.4 L204.1,333.5 L205.1,335.0 L206.0,336.1 L207.3,337.0 L208.5,337.8 L209.8,337.5 L211.0,337.2 L212.3,338.0 L213.6,339.7 L214.8,339.4 L216.1,338.5 L217.3,338.9 L218.6,339.8 L219.9,339.3 L221.3,340.2 L222.7,340.2 L223.9,341.3 L224.9,341.9 L226.1,343.0 L226.5,343.5" fill="none" stroke="#000" stroke-width="1.7" stroke-linejoin="round"/>
<rect x="274.20" y="209.00" width="189.00" height="139.20" fill="none" stroke="#1a1a1a" stroke-width="1.30"/>
<line x1="274.20" y1="210.30" x2="277.40" y2="210.30" stroke="#1a1a1a" stroke-width="1.00"/>
<line x1="274.20" y1="215.15" x2="276.20" y2="215.15" stroke="#1a1a1a" stroke-width="1.00"/>
<line x1="274.20" y1="220.57" x2="276.20" y2="220.57" stroke="#1a1a1a" stroke-width="1.00"/>
<line x1="274.20" y1="226.72" x2="276.20" y2="226.72" stroke="#1a1a1a" stroke-width="1.00"/>
<line x1="274.20" y1="233.82" x2="276.20" y2="233.82" stroke="#1a1a1a" stroke-width="1.00"/>
<line x1="274.20" y1="242.21" x2="276.20" y2="242.21" stroke="#1a1a1a" stroke-width="1.00"/>
<line x1="274.20" y1="252.48" x2="276.20" y2="252.48" stroke="#1a1a1a" stroke-width="1.00"/>
<line x1="274.20" y1="265.73" x2="276.20" y2="265.73" stroke="#1a1a1a" stroke-width="1.00"/>
<line x1="274.20" y1="284.39" x2="276.20" y2="284.39" stroke="#1a1a1a" stroke-width="1.00"/>
<line x1="274.20" y1="316.30" x2="277.40" y2="316.30" stroke="#1a1a1a" stroke-width="1.00"/>
<line x1="286.50" y1="348.20" x2="286.50" y2="346.20" stroke="#1a1a1a" stroke-width="1.00"/>
<line x1="311.70" y1="348.20" x2="311.70" y2="346.20" stroke="#1a1a1a" stroke-width="1.00"/>
<line x1="333.00" y1="348.20" x2="333.00" y2="346.20" stroke="#1a1a1a" stroke-width="1.00"/>
<line x1="350.80" y1="348.20" x2="350.80" y2="346.20" stroke="#1a1a1a" stroke-width="1.00"/>
<line x1="366.60" y1="348.20" x2="366.60" y2="346.20" stroke="#1a1a1a" stroke-width="1.00"/>
<line x1="379.70" y1="348.20" x2="379.70" y2="345.20" stroke="#1a1a1a" stroke-width="1.00"/>
<line x1="392.10" y1="348.20" x2="392.10" y2="346.20" stroke="#1a1a1a" stroke-width="1.00"/>
<line x1="402.80" y1="348.20" x2="402.80" y2="346.20" stroke="#1a1a1a" stroke-width="1.00"/>
<line x1="413.20" y1="348.20" x2="413.20" y2="346.20" stroke="#1a1a1a" stroke-width="1.00"/>
<line x1="422.10" y1="348.20" x2="422.10" y2="346.20" stroke="#1a1a1a" stroke-width="1.00"/>
<line x1="430.70" y1="348.20" x2="430.70" y2="346.20" stroke="#1a1a1a" stroke-width="1.00"/>
<line x1="439.10" y1="348.20" x2="439.10" y2="346.20" stroke="#1a1a1a" stroke-width="1.00"/>
<line x1="446.70" y1="348.20" x2="446.70" y2="346.20" stroke="#1a1a1a" stroke-width="1.00"/>
<line x1="453.30" y1="348.20" x2="453.30" y2="346.20" stroke="#1a1a1a" stroke-width="1.00"/>
<line x1="460.00" y1="348.20" x2="460.00" y2="345.20" stroke="#1a1a1a" stroke-width="1.00"/>
<text transform="translate(379.50,356.90)" font-size="5.60" text-anchor="middle" fill="#111" font-family='"Liberation Sans",sans-serif' font-weight="bold" stroke="#111" stroke-width="0.18">1</text>
<text transform="translate(459.10,356.90)" font-size="5.60" text-anchor="middle" fill="#111" font-family='"Liberation Sans",sans-serif' font-weight="bold" stroke="#111" stroke-width="0.18">2</text>
<text transform="translate(368.90,373.40)" font-size="11.00" text-anchor="middle" fill="#111" font-family='"Liberation Sans",sans-serif' font-weight="bold" stroke="#111" stroke-width="0.18">q (A<tspan font-size="6.5" dy="-5.6">-1</tspan><tspan dy="5.6">)</tspan></text>
<text transform="translate(266.00,277.25) rotate(-90)" font-size="12.50" text-anchor="middle" fill="#111" font-family='"Liberation Sans",sans-serif' font-weight="bold" stroke="#111" stroke-width="0.18">Intensity (a.u.)</text>
<line x1="357.00" y1="221.30" x2="378.00" y2="221.30" stroke="#000" stroke-width="1.60"/>
<line x1="357.00" y1="233.40" x2="378.00" y2="233.40" stroke="#f00" stroke-width="1.60"/>
<text transform="translate(379.90,225.10)" font-size="7.85" text-anchor="start" fill="#111" font-family='"Liberation Sans",sans-serif' font-weight="bold" stroke="#111" stroke-width="0.18" letter-spacing="0.66">ZnO, In-plane</text>
<text transform="translate(379.90,235.90)" font-size="7.85" text-anchor="start" fill="#111" font-family='"Liberation Sans",sans-serif' font-weight="bold" stroke="#111" stroke-width="0.18" letter-spacing="0.64">ZnO, Out-of-plane</text>
<path d="M274.2,236.1 L274.7,236.5 L275.5,237.9 L276.3,239.1 L277.3,240.2 L278.3,242.1 L279.4,243.1 L280.1,243.8 L280.9,244.6 L281.7,245.5 L282.5,246.1 L283.4,247.4 L284.3,248.8 L285.1,249.3 L286.0,250.7 L286.8,251.2 L287.7,251.4 L288.6,252.6 L289.5,253.5 L290.4,254.8 L291.3,255.3 L292.2,256.4 L293.2,257.0 L294.2,258.2 L295.1,258.6 L296.1,259.7 L297.1,260.6 L298.2,261.5 L299.2,261.8 L300.3,262.4 L301.3,263.5 L302.4,264.0 L303.4,264.9 L304.6,265.6 L305.7,266.2 L306.9,266.9 L308.0,266.7 L309.2,267.5 L310.4,267.7 L311.5,268.9 L312.7,269.0 L314.0,270.1 L315.3,270.0 L316.6,270.4 L317.8,271.1 L319.1,271.0 L320.5,271.4 L321.9,271.8 L323.1,271.8 L324.3,272.4 L325.5,273.3 L326.8,273.0 L328.1,273.3 L329.4,272.8 L330.6,273.3 L331.8,273.8 L333.0,273.8 L334.4,273.9 L335.8,273.5 L337.1,273.8 L338.3,274.5 L339.6,273.9 L340.9,274.7 L342.2,275.4 L343.4,275.0 L344.5,275.1 L345.7,275.9 L346.9,276.4 L348.0,277.6 L349.2,277.8 L350.3,277.7 L351.5,277.1 L352.8,277.8 L354.1,277.5 L355.4,278.3 L356.6,278.2 L357.9,278.4 L359.3,278.8 L360.7,279.2 L361.9,279.1 L363.2,279.4 L364.5,279.7 L365.8,280.0 L367.2,279.7 L368.5,279.1 L369.7,279.3 L370.8,279.5 L371.8,279.9 L373.4,279.7 L374.4,279.8 L375.5,280.5 L377.1,280.6 L378.1,280.6 L379.2,279.9 L380.4,279.8 L381.7,279.6 L383.1,279.5 L384.4,279.2 L385.7,279.2 L387.0,278.9 L388.2,278.7 L389.5,278.2 L390.7,278.2 L391.9,278.0 L393.0,277.3 L394.2,276.3 L395.3,276.3 L396.3,275.9 L397.4,275.4 L398.6,275.4 L399.6,274.2 L400.7,274.2 L401.7,274.0 L402.7,272.8 L403.8,272.5 L404.8,271.1 L405.6,270.2 L406.5,269.6 L407.3,268.4 L408.2,267.5 L409.0,267.1 L409.9,265.5 L410.7,265.1 L411.5,263.7 L412.2,263.1 L413.3,262.0 L414.3,261.8 L415.2,260.7 L416.1,259.2 L417.0,258.5 L417.8,258.4 L419.1,257.5 L420.2,258.3 L421.5,258.2 L422.7,258.2 L424.0,258.7 L425.4,259.4 L427.0,259.8 L428.1,260.6 L429.3,260.6 L430.6,261.8 L431.9,262.2 L433.1,263.7 L434.4,263.9 L435.6,265.1 L436.9,265.0 L438.1,264.8 L439.3,265.7 L440.6,266.9 L441.8,267.2 L442.9,268.0 L443.9,269.0 L445.0,269.8 L446.0,270.0 L447.1,270.7 L448.1,271.8 L449.2,271.8 L450.4,272.4 L451.7,272.7 L453.0,273.7 L454.2,273.9 L455.4,273.6 L456.6,274.3 L457.8,274.7 L458.9,276.0 L460.1,277.9 L461.1,278.3 L462.0,279.1 L462.6,279.5" fill="none" stroke="#f00" stroke-width="1.7" stroke-linejoin="round"/>
<path d="M274.2,291.1 L274.9,291.1 L275.9,291.1 L277.1,291.9 L278.4,292.4 L279.8,292.9 L281.2,292.9 L282.3,293.8 L283.4,295.0 L284.5,295.3 L285.7,295.2 L286.9,296.3 L288.1,296.4 L289.3,297.3 L290.5,298.4 L291.8,298.9 L293.1,299.6 L294.4,300.2 L295.8,299.9 L297.1,300.4 L298.4,300.6 L299.7,300.9 L300.9,300.9 L302.0,301.1 L303.2,301.1 L304.4,302.1 L305.5,302.0 L306.7,302.3 L307.8,303.0 L309.0,303.3 L310.3,303.1 L311.6,302.7 L312.9,302.0 L314.3,303.2 L315.6,303.2 L316.9,302.6 L318.2,303.3 L319.5,303.3 L320.9,302.7 L322.2,303.4 L323.6,303.7 L324.9,304.7 L326.2,304.9 L327.5,304.4 L329.0,303.9 L330.4,304.2 L331.8,305.9 L333.2,305.6 L334.5,304.4 L335.8,304.7 L337.2,304.6 L338.4,305.4 L339.7,304.7 L340.9,305.5 L342.2,306.7 L343.4,307.3 L344.7,308.1 L345.9,307.7 L347.2,308.3 L348.5,309.7 L349.6,309.5 L351.0,310.2 L352.3,310.0 L353.6,310.0 L355.2,310.7 L356.3,311.3 L357.6,310.4 L359.0,310.5 L360.4,309.0 L361.8,308.7 L363.1,309.0 L364.4,309.1 L365.8,309.9 L367.1,309.9 L368.5,309.1 L369.7,309.1 L370.8,309.6 L371.8,309.7 L373.4,309.9 L375.2,310.6 L376.1,311.2 L377.1,311.3 L378.3,311.4 L379.5,312.0 L380.8,312.7 L382.0,313.4 L383.3,313.7 L384.5,313.6 L385.8,312.9 L387.2,314.0 L388.5,313.9 L389.9,313.0 L391.2,312.2 L392.5,311.7 L393.7,311.6 L395.0,311.0 L396.3,310.5 L397.5,309.5 L398.7,310.9 L399.9,310.5 L401.1,309.4 L402.0,307.6 L403.0,307.9 L404.0,307.6 L404.9,306.9 L405.9,304.7 L406.8,304.0 L407.7,303.2 L408.5,302.5 L409.6,301.3 L410.6,299.9 L411.5,298.7 L412.4,298.1 L413.3,297.3 L414.1,296.3 L415.4,295.2 L416.6,294.1 L417.8,295.2 L418.9,296.1 L420.0,296.1 L421.2,296.8 L422.4,298.7 L423.0,299.3 L423.7,300.4 L424.3,301.1 L425.0,302.6 L425.6,304.6 L426.3,305.4 L427.0,305.9 L427.5,306.2 L428.0,308.8 L428.5,309.4 L429.0,310.8 L429.6,312.0 L430.1,313.7 L430.7,314.2 L431.3,315.5 L431.9,316.3 L432.5,316.9 L433.2,317.9 L434.0,318.5 L434.8,319.9 L435.7,321.4 L436.5,322.3 L437.4,323.3 L438.2,324.2 L439.1,325.3 L439.9,326.4 L441.1,327.1 L442.4,327.4 L443.6,327.9 L444.8,328.9 L446.1,328.9 L447.3,328.9 L448.6,329.5 L449.8,328.6 L451.1,328.2 L452.4,329.1 L453.6,330.4 L454.7,329.7 L456.0,331.7 L457.2,332.6 L458.4,332.7 L459.4,333.7 L460.3,334.7 L461.0,335.8 L461.6,337.0 L462.1,338.3 L462.5,338.4 L462.8,340.0" fill="none" stroke="#000" stroke-width="1.7" stroke-linejoin="round"/>
<rect x="519.80" y="20.60" width="186.90" height="138.70" fill="none" stroke="#1a1a1a" stroke-width="1.40"/>
<text transform="translate(516.30,162.15) scale(1.180,1)" font-size="8.30" text-anchor="end" fill="#111" font-family='"Liberation Sans",sans-serif' font-weight="bold" stroke="#111" stroke-width="0.18">0.55</text>
<line x1="519.80" y1="145.43" x2="521.90" y2="145.43" stroke="#1a1a1a" stroke-width="1.00"/>
<line x1="519.80" y1="131.56" x2="523.00" y2="131.56" stroke="#1a1a1a" stroke-width="1.00"/>
<text transform="translate(516.30,134.41) scale(1.180,1)" font-size="8.30" text-anchor="end" fill="#111" font-family='"Liberation Sans",sans-serif' font-weight="bold" stroke="#111" stroke-width="0.18">0.60</text>
<line x1="519.80" y1="117.69" x2="521.90" y2="117.69" stroke="#1a1a1a" stroke-width="1.00"/>
<line x1="519.80" y1="103.82" x2="523.00" y2="103.82" stroke="#1a1a1a" stroke-width="1.00"/>
<text transform="translate(516.30,106.67) scale(1.180,1)" font-size="8.30" text-anchor="end" fill="#111" font-family='"Liberation Sans",sans-serif' font-weight="bold" stroke="#111" stroke-width="0.18">0.65</text>
<line x1="519.80" y1="89.95" x2="521.90" y2="89.95" stroke="#1a1a1a" stroke-width="1.00"/>
<line x1="519.80" y1="76.08" x2="523.00" y2="76.08" stroke="#1a1a1a" stroke-width="1.00"/>
<text transform="translate(516.30,78.93) scale(1.180,1)" font-size="8.30" text-anchor="end" fill="#111" font-family='"Liberation Sans",sans-serif' font-weight="bold" stroke="#111" stroke-width="0.18">0.70</text>
<line x1="519.80" y1="62.21" x2="521.90" y2="62.21" stroke="#1a1a1a" stroke-width="1.00"/>
<line x1="519.80" y1="48.34" x2="523.00" y2="48.34" stroke="#1a1a1a" stroke-width="1.00"/>
<text transform="translate(516.30,51.19) scale(1.180,1)" font-size="8.30" text-anchor="end" fill="#111" font-family='"Liberation Sans",sans-serif' font-weight="bold" stroke="#111" stroke-width="0.18">0.75</text>
<line x1="519.80" y1="34.47" x2="521.90" y2="34.47" stroke="#1a1a1a" stroke-width="1.00"/>
<text transform="translate(516.30,23.45) scale(1.180,1)" font-size="8.30" text-anchor="end" fill="#111" font-family='"Liberation Sans",sans-serif' font-weight="bold" stroke="#111" stroke-width="0.18">0.80</text>
<line x1="523.20" y1="159.30" x2="523.20" y2="156.10" stroke="#1a1a1a" stroke-width="1.00"/>
<line x1="550.23" y1="159.30" x2="550.23" y2="157.30" stroke="#1a1a1a" stroke-width="1.00"/>
<line x1="566.05" y1="159.30" x2="566.05" y2="157.30" stroke="#1a1a1a" stroke-width="1.00"/>
<line x1="577.26" y1="159.30" x2="577.26" y2="157.30" stroke="#1a1a1a" stroke-width="1.00"/>
<line x1="585.97" y1="159.30" x2="585.97" y2="157.30" stroke="#1a1a1a" stroke-width="1.00"/>
<line x1="593.08" y1="159.30" x2="593.08" y2="157.30" stroke="#1a1a1a" stroke-width="1.00"/>
<line x1="599.09" y1="159.30" x2="599.09" y2="157.30" stroke="#1a1a1a" stroke-width="1.00"/>
<line x1="604.30" y1="159.30" x2="604.30" y2="157.30" stroke="#1a1a1a" stroke-width="1.00"/>
<line x1="608.89" y1="159.30" x2="608.89" y2="157.30" stroke="#1a1a1a" stroke-width="1.00"/>
<line x1="613.00" y1="159.30" x2="613.00" y2="156.10" stroke="#1a1a1a" stroke-width="1.00"/>
<line x1="640.03" y1="159.30" x2="640.03" y2="157.30" stroke="#1a1a1a" stroke-width="1.00"/>
<line x1="655.85" y1="159.30" x2="655.85" y2="157.30" stroke="#1a1a1a" stroke-width="1.00"/>
<line x1="667.06" y1="159.30" x2="667.06" y2="157.30" stroke="#1a1a1a" stroke-width="1.00"/>
<line x1="675.77" y1="159.30" x2="675.77" y2="157.30" stroke="#1a1a1a" stroke-width="1.00"/>
<line x1="682.88" y1="159.30" x2="682.88" y2="157.30" stroke="#1a1a1a" stroke-width="1.00"/>
<line x1="688.89" y1="159.30" x2="688.89" y2="157.30" stroke="#1a1a1a" stroke-width="1.00"/>
<line x1="694.10" y1="159.30" x2="694.10" y2="157.30" stroke="#1a1a1a" stroke-width="1.00"/>
<line x1="698.69" y1="159.30" x2="698.69" y2="157.30" stroke="#1a1a1a" stroke-width="1.00"/>
<line x1="702.80" y1="159.30" x2="702.80" y2="156.10" stroke="#1a1a1a" stroke-width="1.00"/>
<text transform="translate(523.20,170.50) scale(1.180,1)" font-size="8.30" text-anchor="middle" fill="#111" font-family='"Liberation Sans",sans-serif' font-weight="bold" stroke="#111" stroke-width="0.18">1</text>
<text transform="translate(613.00,170.50) scale(1.180,1)" font-size="8.30" text-anchor="middle" fill="#111" font-family='"Liberation Sans",sans-serif' font-weight="bold" stroke="#111" stroke-width="0.18">10</text>
<text transform="translate(702.80,170.50) scale(1.180,1)" font-size="8.30" text-anchor="middle" fill="#111" font-family='"Liberation Sans",sans-serif' font-weight="bold" stroke="#111" stroke-width="0.18">100</text>
<text transform="translate(613.25,185.60) scale(1.050,1)" font-size="10.90" text-anchor="middle" fill="#111" font-family='"Liberation Sans",sans-serif' font-weight="bold" stroke="#111" stroke-width="0.18">Light Intensity (mWcm<tspan font-size="7" dy="-4.6">-2</tspan><tspan dy="4.6">)</tspan></text>
<text transform="translate(486.50,89.85) rotate(-90)" font-size="11.40" text-anchor="middle" fill="#111" font-family='"Liberation Sans",sans-serif' font-weight="bold" stroke="#111" stroke-width="0.18"><tspan font-style="italic">V</tspan><tspan font-size="7.0" font-weight="normal" dy="4.6">OC</tspan><tspan dy="-4.6"> (V)</tspan></text>
<line x1="519.80" y1="103.60" x2="706.70" y2="27.00" stroke="#f00" stroke-width="1.30"/>
<line x1="519.80" y1="128.20" x2="706.70" y2="29.10" stroke="#000" stroke-width="1.30"/>
<circle cx="523.70" cy="129.90" r="3.15" fill="url(#gb)"/>
<circle cx="613.10" cy="71.50" r="3.15" fill="url(#gb)"/>
<circle cx="648.70" cy="55.90" r="3.15" fill="url(#gb)"/>
<circle cx="658.50" cy="52.20" r="3.15" fill="url(#gb)"/>
<circle cx="667.20" cy="48.00" r="3.15" fill="url(#gb)"/>
<circle cx="675.90" cy="45.10" r="3.15" fill="url(#gb)"/>
<circle cx="685.10" cy="41.90" r="3.15" fill="url(#gb)"/>
<circle cx="694.20" cy="36.40" r="3.15" fill="url(#gb)"/>
<circle cx="702.90" cy="29.60" r="3.15" fill="url(#gb)"/>
<circle cx="523.70" cy="101.30" r="3.15" fill="url(#gr)"/>
<circle cx="613.10" cy="60.80" r="3.15" fill="url(#gr)"/>
<circle cx="648.70" cy="45.90" r="3.15" fill="url(#gr)"/>
<circle cx="658.50" cy="43.20" r="3.15" fill="url(#gr)"/>
<circle cx="667.20" cy="38.40" r="3.15" fill="url(#gr)"/>
<circle cx="675.90" cy="35.30" r="3.15" fill="url(#gr)"/>
<circle cx="685.10" cy="32.40" r="3.15" fill="url(#gr)"/>
<circle cx="694.20" cy="26.40" r="3.15" fill="url(#gr)"/>
<circle cx="702.90" cy="25.80" r="3.15" fill="url(#gr)"/>
<text transform="translate(530.80,59.50) scale(1.065,1)" font-size="11.20" text-anchor="start" fill="#f00" font-family='"Liberation Sans",sans-serif' font-weight="bold" stroke="#f00" stroke-width="0.18">s = 1.09 <tspan font-style="italic">kT</tspan>/<tspan font-style="italic">q</tspan></text>
<text transform="translate(611.30,93.70) scale(1.055,1)" font-size="11.20" text-anchor="start" fill="#111" font-family='"Liberation Sans",sans-serif' font-weight="bold" stroke="#111" stroke-width="0.18">s = 1.48 <tspan font-style="italic">kT</tspan>/<tspan font-style="italic">q</tspan></text>
<circle cx="649.40" cy="133.40" r="3.10" fill="url(#gb)"/>
<circle cx="649.70" cy="146.50" r="2.50" fill="url(#gr)"/>
<text transform="translate(664.40,136.50)" font-size="8.90" text-anchor="start" fill="#111" font-family='"Liberation Sans",sans-serif' font-weight="bold" stroke="#111" stroke-width="0.18" letter-spacing="0.72">PFN-Br</text>
<text transform="translate(664.40,149.30)" font-size="8.90" text-anchor="start" fill="#111" font-family='"Liberation Sans",sans-serif' font-weight="bold" stroke="#111" stroke-width="0.18" letter-spacing="1.03">ZnO</text>
<rect x="519.80" y="206.30" width="187.40" height="138.70" fill="none" stroke="#1a1a1a" stroke-width="1.40"/>
<text transform="translate(516.30,347.85) scale(1.180,1)" font-size="8.30" text-anchor="end" fill="#111" font-family='"Liberation Sans",sans-serif' font-weight="bold" stroke="#111" stroke-width="0.18">30</text>
<line x1="519.80" y1="331.13" x2="521.90" y2="331.13" stroke="#1a1a1a" stroke-width="1.00"/>
<line x1="519.80" y1="317.26" x2="523.00" y2="317.26" stroke="#1a1a1a" stroke-width="1.00"/>
<text transform="translate(516.30,320.11) scale(1.180,1)" font-size="8.30" text-anchor="end" fill="#111" font-family='"Liberation Sans",sans-serif' font-weight="bold" stroke="#111" stroke-width="0.18">40</text>
<line x1="519.80" y1="303.39" x2="521.90" y2="303.39" stroke="#1a1a1a" stroke-width="1.00"/>
<line x1="519.80" y1="289.52" x2="523.00" y2="289.52" stroke="#1a1a1a" stroke-width="1.00"/>
<text transform="translate(516.30,292.37) scale(1.180,1)" font-size="8.30" text-anchor="end" fill="#111" font-family='"Liberation Sans",sans-serif' font-weight="bold" stroke="#111" stroke-width="0.18">50</text>
<line x1="519.80" y1="275.65" x2="521.90" y2="275.65" stroke="#1a1a1a" stroke-width="1.00"/>
<line x1="519.80" y1="261.78" x2="523.00" y2="261.78" stroke="#1a1a1a" stroke-width="1.00"/>
<text transform="translate(516.30,264.63) scale(1.180,1)" font-size="8.30" text-anchor="end" fill="#111" font-family='"Liberation Sans",sans-serif' font-weight="bold" stroke="#111" stroke-width="0.18">60</text>
<line x1="519.80" y1="247.91" x2="521.90" y2="247.91" stroke="#1a1a1a" stroke-width="1.00"/>
<line x1="519.80" y1="234.04" x2="523.00" y2="234.04" stroke="#1a1a1a" stroke-width="1.00"/>
<text transform="translate(516.30,236.89) scale(1.180,1)" font-size="8.30" text-anchor="end" fill="#111" font-family='"Liberation Sans",sans-serif' font-weight="bold" stroke="#111" stroke-width="0.18">70</text>
<line x1="519.80" y1="220.17" x2="521.90" y2="220.17" stroke="#1a1a1a" stroke-width="1.00"/>
<text transform="translate(516.30,209.15) scale(1.180,1)" font-size="8.30" text-anchor="end" fill="#111" font-family='"Liberation Sans",sans-serif' font-weight="bold" stroke="#111" stroke-width="0.18">80</text>
<line x1="523.20" y1="345.00" x2="523.20" y2="341.80" stroke="#1a1a1a" stroke-width="1.00"/>
<line x1="550.46" y1="345.00" x2="550.46" y2="343.00" stroke="#1a1a1a" stroke-width="1.00"/>
<line x1="566.40" y1="345.00" x2="566.40" y2="343.00" stroke="#1a1a1a" stroke-width="1.00"/>
<line x1="577.72" y1="345.00" x2="577.72" y2="343.00" stroke="#1a1a1a" stroke-width="1.00"/>
<line x1="586.49" y1="345.00" x2="586.49" y2="343.00" stroke="#1a1a1a" stroke-width="1.00"/>
<line x1="593.66" y1="345.00" x2="593.66" y2="343.00" stroke="#1a1a1a" stroke-width="1.00"/>
<line x1="599.72" y1="345.00" x2="599.72" y2="343.00" stroke="#1a1a1a" stroke-width="1.00"/>
<line x1="604.97" y1="345.00" x2="604.97" y2="343.00" stroke="#1a1a1a" stroke-width="1.00"/>
<line x1="609.61" y1="345.00" x2="609.61" y2="343.00" stroke="#1a1a1a" stroke-width="1.00"/>
<line x1="613.75" y1="345.00" x2="613.75" y2="341.80" stroke="#1a1a1a" stroke-width="1.00"/>
<line x1="641.01" y1="345.00" x2="641.01" y2="343.00" stroke="#1a1a1a" stroke-width="1.00"/>
<line x1="656.95" y1="345.00" x2="656.95" y2="343.00" stroke="#1a1a1a" stroke-width="1.00"/>
<line x1="668.27" y1="345.00" x2="668.27" y2="343.00" stroke="#1a1a1a" stroke-width="1.00"/>
<line x1="677.04" y1="345.00" x2="677.04" y2="343.00" stroke="#1a1a1a" stroke-width="1.00"/>
<line x1="684.21" y1="345.00" x2="684.21" y2="343.00" stroke="#1a1a1a" stroke-width="1.00"/>
<line x1="690.27" y1="345.00" x2="690.27" y2="343.00" stroke="#1a1a1a" stroke-width="1.00"/>
<line x1="695.52" y1="345.00" x2="695.52" y2="343.00" stroke="#1a1a1a" stroke-width="1.00"/>
<line x1="700.16" y1="345.00" x2="700.16" y2="343.00" stroke="#1a1a1a" stroke-width="1.00"/>
<line x1="704.30" y1="345.00" x2="704.30" y2="341.80" stroke="#1a1a1a" stroke-width="1.00"/>
<text transform="translate(523.20,356.60) scale(1.180,1)" font-size="8.30" text-anchor="middle" fill="#111" font-family='"Liberation Sans",sans-serif' font-weight="bold" stroke="#111" stroke-width="0.18">1</text>
<text transform="translate(613.75,356.60) scale(1.180,1)" font-size="8.30" text-anchor="middle" fill="#111" font-family='"Liberation Sans",sans-serif' font-weight="bold" stroke="#111" stroke-width="0.18">10</text>
<text transform="translate(704.30,356.60) scale(1.180,1)" font-size="8.30" text-anchor="middle" fill="#111" font-family='"Liberation Sans",sans-serif' font-weight="bold" stroke="#111" stroke-width="0.18">100</text>
<text transform="translate(614.15,373.40) scale(1.085,1)" font-size="10.90" text-anchor="middle" fill="#111" font-family='"Liberation Sans",sans-serif' font-weight="bold" stroke="#111" stroke-width="0.18">Light Intensity (mWcm<tspan font-size="7" dy="-4.6">-2</tspan><tspan dy="4.6">)</tspan></text>
<text transform="translate(494.90,276.30) rotate(-90)" font-size="11.60" text-anchor="middle" fill="#111" font-family='"Liberation Sans",sans-serif' font-weight="bold" stroke="#111" stroke-width="0.18">FF (%)</text>
<path d="M523.20,308.50 L613.70,248.90 L650.40,244.40 L659.70,245.80 L668.10,246.60 L677.00,248.00 L686.30,249.40 L695.50,253.60 L705.00,255.90" fill="none" stroke="#000" stroke-width="1.2"/>
<path d="M523.20,236.80 L613.70,234.60 L650.40,237.90 L659.70,239.60 L668.10,239.60 L677.00,240.40 L686.30,241.80 L695.50,247.50 L705.00,251.70" fill="none" stroke="#f00" stroke-width="1.2"/>
<circle cx="523.20" cy="308.50" r="3.15" fill="url(#gb)"/>
<circle cx="613.70" cy="248.90" r="3.15" fill="url(#gb)"/>
<circle cx="650.40" cy="244.40" r="3.15" fill="url(#gb)"/>
<circle cx="659.70" cy="245.80" r="3.15" fill="url(#gb)"/>
<circle cx="668.10" cy="246.60" r="3.15" fill="url(#gb)"/>
<circle cx="677.00" cy="248.00" r="3.15" fill="url(#gb)"/>
<circle cx="686.30" cy="249.40" r="3.15" fill="url(#gb)"/>
<circle cx="695.50" cy="253.60" r="3.15" fill="url(#gb)"/>
<circle cx="705.00" cy="255.90" r="3.15" fill="url(#gb)"/>
<circle cx="523.20" cy="236.80" r="3.15" fill="url(#gr)"/>
<circle cx="613.70" cy="234.60" r="3.15" fill="url(#gr)"/>
<circle cx="650.40" cy="237.90" r="3.15" fill="url(#gr)"/>
<circle cx="659.70" cy="239.60" r="3.15" fill="url(#gr)"/>
<circle cx="668.10" cy="239.60" r="3.15" fill="url(#gr)"/>
<circle cx="677.00" cy="240.40" r="3.15" fill="url(#gr)"/>
<circle cx="686.30" cy="241.80" r="3.15" fill="url(#gr)"/>
<circle cx="695.50" cy="247.50" r="3.15" fill="url(#gr)"/>
<circle cx="705.00" cy="251.70" r="3.15" fill="url(#gr)"/>
<line x1="636.10" y1="317.90" x2="660.50" y2="317.90" stroke="#000" stroke-width="1.20"/>
<line x1="636.10" y1="331.50" x2="660.50" y2="331.50" stroke="#f00" stroke-width="1.20"/>
<circle cx="648.40" cy="317.90" r="2.90" fill="url(#gb)"/>
<circle cx="648.40" cy="331.50" r="2.90" fill="url(#gr)"/>
<text transform="translate(663.10,321.00)" font-size="9.10" text-anchor="start" fill="#111" font-family='"Liberation Sans",sans-serif' font-weight="bold" stroke="#111" stroke-width="0.18" letter-spacing="0.92">PFN-Br</text>
<text transform="translate(663.50,334.80)" font-size="9.10" text-anchor="start" fill="#111" font-family='"Liberation Sans",sans-serif' font-weight="bold" stroke="#111" stroke-width="0.18" letter-spacing="0.53">ZnO</text>
</svg></div></body></html>
